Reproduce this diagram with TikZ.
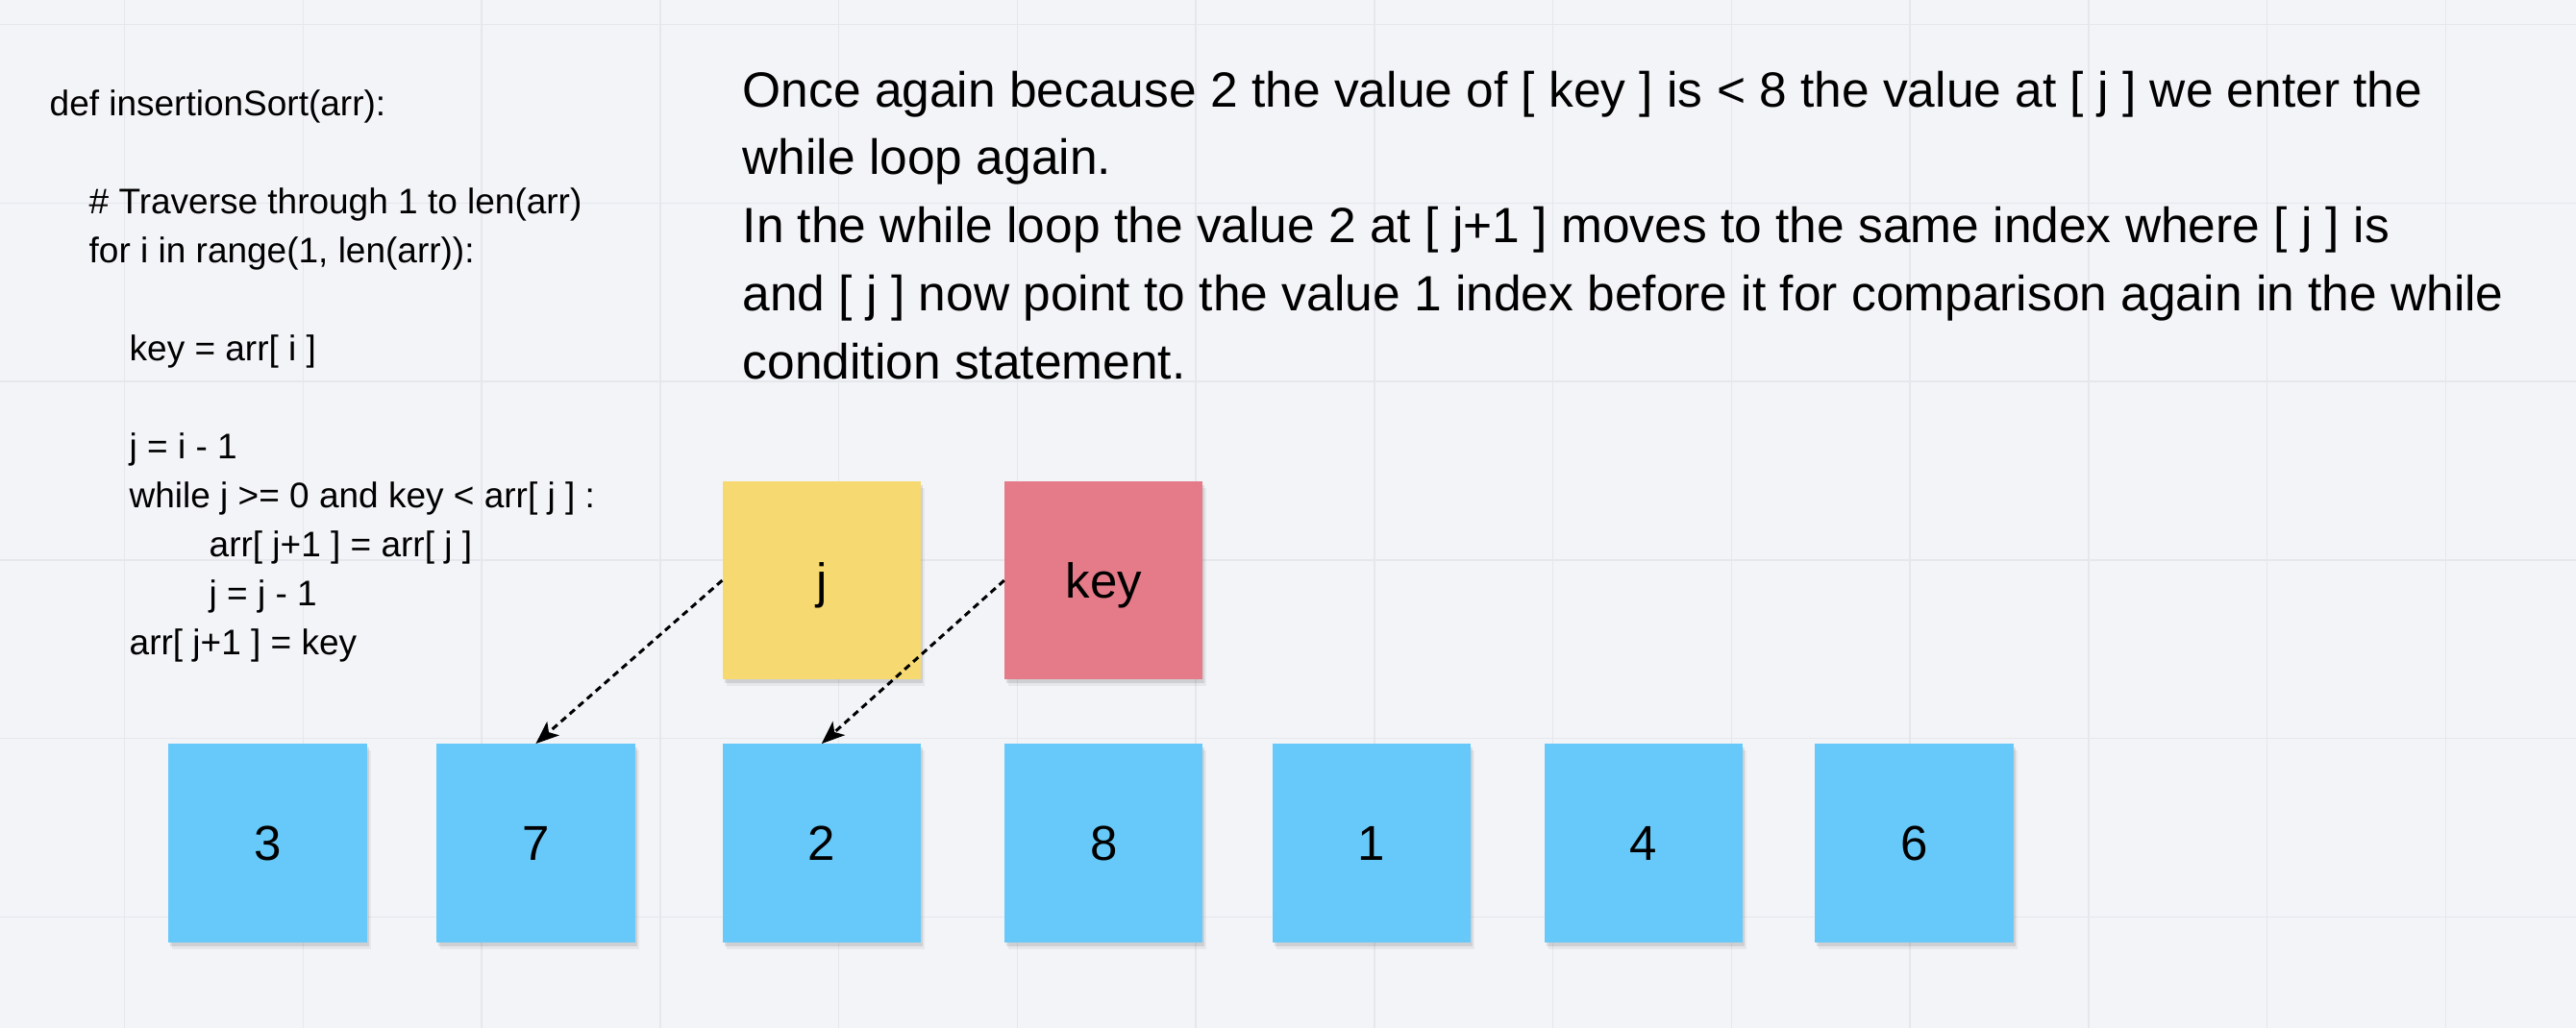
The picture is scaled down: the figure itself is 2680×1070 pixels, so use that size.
\documentclass[tikz,border=0pt]{standalone}
\usepackage{fontspec}
\usepackage{tikz}
\usetikzlibrary{arrows.meta,positioning,shadows}
\setmainfont{Liberation Sans}
\definecolor{canvas}{HTML}{F3F4F8}
\definecolor{gridgray}{HTML}{E6E7EC}
\definecolor{cellblue}{HTML}{67C9F9}
\definecolor{cellyellow}{HTML}{F6D970}
\definecolor{cellred}{HTML}{E57A88}
\tikzset{
  softshadow/.style={drop shadow={shadow xshift=2pt,shadow yshift=-4pt,opacity=0.10,fill=black},
    drop shadow={shadow xshift=4pt,shadow yshift=-7pt,opacity=0.05,fill=black}},
  cell/.style={rectangle,fill=cellblue,softshadow,minimum width=206.5pt,minimum height=206.5pt,inner sep=0pt,text height=36pt,text depth=0pt,font=\fontsize{51}{60}\selectfont},
  jcell/.style={cell,fill=cellyellow},
  keycell/.style={cell,fill=cellred},
  arrow/.style={-{Stealth[length=24pt,width=19pt,inset=6pt]},line width=3pt,dash pattern=on 7pt off 5pt,black},
  codetext/.style={align=left,inner sep=0pt,font=\fontsize{37}{51}\selectfont},
  notetext/.style={align=left,inner sep=0pt,font=\fontsize{51.5}{70.8}\selectfont},
  gridline/.style={gridgray,line width=1.5pt}
}
\begin{document}
\begin{tikzpicture}[x=1pt,y=-1pt]
  \fill[canvas] (0,0) rectangle (2680,1070);
  \useasboundingbox (0,0) rectangle (2680,1070);
  \foreach \gx in {129.5,315.25,...,2560} \draw[gridline] (\gx,0) -- (\gx,1070);
  \foreach \gy in {25.5,211.25,...,960} \draw[gridline] (0,\gy) -- (2680,\gy);

  % the array
  \node[cell] (a0) at (278.5,877.5) {3};
  \node[cell,right=72pt of a0] (a1) {7};
  \node[cell,right=90.5pt of a1] (a2) {2};
  \node[cell,right=86.5pt of a2] (a3) {8};
  \node[cell,right=72pt of a3] (a4) {1};
  \node[cell,right=76pt of a4] (a5) {4};
  \node[cell,right=74.5pt of a5] (a6) {6};

  \node[jcell,above=66.5pt of a2] (j) {j};
  \node[keycell,above=66.5pt of a3] (key) {key};

  % base anchor sits on the last line
  \node[codetext,anchor=base west] (code) at (51.5,681.8) {def insertionSort(arr):\\[51pt]
    \hspace*{41pt}\# Traverse through 1 to len(arr)\\
    \hspace*{41pt}for i in range(1, len(arr)):\\[51pt]
    \hspace*{83pt}key = arr[ i ]\\[51pt]
    \hspace*{83pt}j = i - 1\\
    \hspace*{83pt}while j >= 0 and key < arr[ j ] :\\
    \hspace*{166pt}arr[ j+1 ] = arr[ j ]\\
    \hspace*{166pt}j = j - 1\\
    \hspace*{83pt}arr[ j+1 ] = key};

  \node[notetext,anchor=base west] (note) at (772.5,394.2) {Once again because 2 the value of [ key ] is < 8 the value at [ j ] we enter the\\
    while loop again.\\
    In the while loop the value 2 at [ j+1 ] moves to the same index where [ j ] is\\
    and [ j ] now point to the value 1 index before it for comparison again in the while\\
    condition statement.};

  \draw[arrow] (j.west) -- (a1.north);
  \draw[arrow] (key.west) -- (a2.north);
\end{tikzpicture}
\end{document}
